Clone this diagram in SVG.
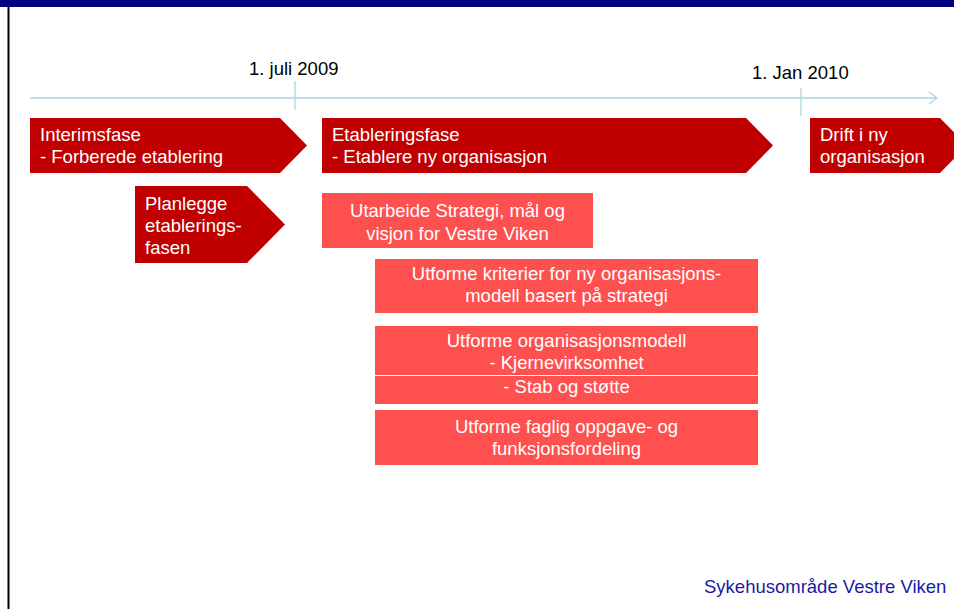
<svg xmlns="http://www.w3.org/2000/svg" width="954" height="609" viewBox="0 0 954 609">
<style>
text{font-family:"Liberation Sans",Arial,sans-serif;font-size:18.5px}
.w{fill:#ffffff}
.c{text-anchor:middle}
.dk{fill:#c00000}
.lt{fill:#ff5050}
.lbl{fill:#000000}
.tl{stroke:#a9d7df;stroke-width:1.3;fill:none}
</style>
<rect x="0" y="0" width="954" height="609" fill="#ffffff"/>
<rect x="0" y="0" width="954" height="7" fill="#000080"/>
<line x1="8.5" y1="7" x2="8.5" y2="609" stroke="#000000" stroke-width="2"/>
<g id="connectors">
<line class="tl" x1="30" y1="98" x2="937" y2="98"/>
<polyline class="tl" points="929,92 937,98 929,104"/>
<line class="tl" x1="295" y1="81" x2="295" y2="110"/>
<line class="tl" x1="801" y1="88" x2="801" y2="116"/>
</g>
<g id="date1"><text class="lbl" x="249" y="75">1. juli 2009</text></g>
<g id="date2"><text class="lbl" x="752" y="79">1. Jan 2010</text></g>
<g id="interim">
<polygon class="dk" points="30,118 280,118 307,145.5 280,173 30,173"/>
<text class="w" x="40" y="141">Interimsfase</text>
<text class="w" x="40" y="163">- Forberede etablering</text>
</g>
<g id="planlegge">
<polygon class="dk" points="135,186 247,186 285,224.5 247,263 135,263"/>
<text class="w" x="145" y="210">Planlegge</text>
<text class="w" x="145" y="232">etablerings-</text>
<text class="w" x="145" y="254">fasen</text>
</g>
<g id="etablering">
<polygon class="dk" points="322,118 746,118 773,145.5 746,173 322,173"/>
<text class="w" x="332" y="141">Etableringsfase</text>
<text class="w" x="332" y="163">- Etablere ny organisasjon</text>
</g>
<g id="drift">
<polygon class="dk" points="810,118 940,118 967,145.5 940,173 810,173"/>
<text class="w" x="820" y="141">Drift i ny</text>
<text class="w" x="820" y="163">organisasjon</text>
</g>
<g id="strategi">
<rect class="lt" x="322" y="193" width="271" height="55"/>
<text class="w c" x="457.5" y="217">Utarbeide Strategi, mål og</text>
<text class="w c" x="457.5" y="240">visjon for Vestre Viken</text>
</g>
<g id="kriterier">
<rect class="lt" x="375" y="259" width="383" height="54"/>
<text class="w c" x="566.5" y="280">Utforme kriterier for ny organisasjons-</text>
<text class="w c" x="566.5" y="302">modell basert på strategi</text>
</g>
<g id="orgmodell">
<rect class="lt" x="375" y="326" width="383" height="49"/>
<text class="w c" x="566.5" y="347">Utforme organisasjonsmodell</text>
<text class="w c" x="566.5" y="369">- Kjernevirksomhet</text>
</g>
<g id="stab">
<rect class="lt" x="375" y="376" width="383" height="28"/>
<text class="w c" x="566.5" y="393">- Stab og støtte</text>
</g>
<g id="faglig">
<rect class="lt" x="375" y="410" width="383" height="55"/>
<text class="w c" x="566.5" y="433">Utforme faglig oppgave- og</text>
<text class="w c" x="566.5" y="455">funksjonsfordeling</text>
</g>
<g id="footer"><text x="704" y="593" fill="#1a1aa6">Sykehusområde Vestre Viken</text></g>
</svg>
